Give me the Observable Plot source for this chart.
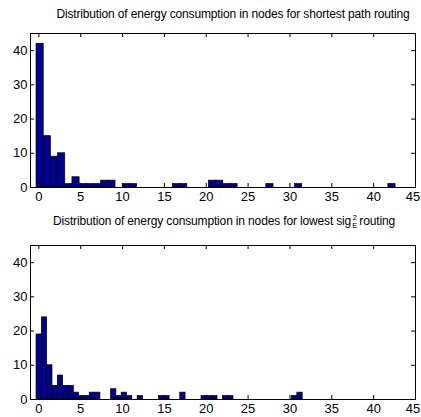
<!DOCTYPE html>
<html><head><meta charset="utf-8">
<script src="https://cdn.jsdelivr.net/npm/d3@7"></script>
<script src="https://cdn.jsdelivr.net/npm/@observablehq/plot@0.6"></script>
<style>
body{margin:0;background:#fff;}
#fig{position:relative;width:421px;height:417px;font-family:"Liberation Sans",Arial,sans-serif;background:#fff;overflow:hidden;}
#fig svg{position:absolute;left:0;}
.title{position:absolute;white-space:nowrap;font-size:12px;line-height:12px;transform:translate(-50%,-50%);color:#000;letter-spacing:-0.15px;}
.stack{display:inline-flex;flex-direction:column;font-size:8px;line-height:8px;vertical-align:middle;text-align:center;margin:0 2px 0 1px;}
</style></head><body><div id="fig"></div>
<script>
const xTicks = [0, 5, 10, 15, 20, 25, 30, 35, 40, 45];
const yTicks = [0, 10, 20, 30, 40];
const title1 = "Distribution of energy consumption in nodes for shortest path routing";
const title2 = "Distribution of energy consumption in nodes for lowest sig";
const title2Sup = "2";
const title2Sub = "E";
const title2End = "routing";
// 50-bin histogram counts
const shortestCounts = [42,15,9,10,1,3,1,1,1,2, 2,0,1,1,0,0,0,0,0,1, 1,0,0,0,2,2,1,1,0,0, 0,0,1,0,0,0,1,0,0,0, 0,0,0,0,0,0,0,0,0,1];
const shortestRange = [-0.28, 42.62];
const lowestCounts = [19,24,10,4,7,4,4,2,1,1, 2,2,0,0,3,1,2,1,0,1, 0,0,0,1,1,0,0,2,0,0, 0,1,1,1,0,1,1,0,0,0, 0,0,0,0,0,0,0,0,1,2];
const lowestRange = [-0.28, 31.52];

function makeHist(counts, range, h, mTop, mBottom) {
  const [lo, hi] = range;
  const w = (hi - lo) / counts.length;
  const bins = counts.map((c, i) => ({x1: lo + i * w, x2: lo + (i + 1) * w, y: c})).filter(d => d.y > 0);
  const mL = 30, mR = 6, W = 421;
  const fh = h - mTop - mBottom, fw = W - mL - mR;
  const lastTick = xTicks[xTicks.length - 1];
  return Plot.plot({
    width: W, height: h, marginTop: mTop, marginBottom: mBottom, marginLeft: mL, marginRight: mR,
    style: {fontFamily: "'Liberation Sans', Arial, sans-serif", fontSize: "13px", background: "white", color: "black", overflow: "visible"},
    x: {domain: [-1, 45]},
    y: {domain: [0, 45]},
    marks: [
      Plot.rectY(bins, {x1: "x1", x2: "x2", y: "y", fill: "#00008f", stroke: "#000", strokeWidth: 0.7, inset: 0}),
      Plot.ruleY([0], {stroke: "#000"}),
      Plot.ruleX(xTicks, {insetTop: fh - 4, stroke: "#000"}),
      Plot.ruleX(xTicks, {insetBottom: fh - 4, stroke: "#000"}),
      Plot.ruleY(yTicks, {insetRight: fw - 4, stroke: "#000"}),
      Plot.ruleY(yTicks, {insetLeft: fw - 4, stroke: "#000"}),
      Plot.frame({stroke: "#000"}),
      Plot.axisX(xTicks.slice(0, -1), {anchor: "bottom", tickSize: 0, tickPadding: 4, label: null, fontSize: 13}),
      Plot.axisX([lastTick], {anchor: "bottom", tickSize: 0, tickPadding: 4, label: null, fontSize: 13, dx: -2.5}),
      Plot.axisY(yTicks, {anchor: "left", tickSize: 0, tickPadding: 3, label: null, fontSize: 13})
    ]
  });
}

const fig = document.getElementById("fig");
const p1 = makeHist(shortestCounts, shortestRange, 210, 33, 23);
p1.style.top = "0px";
fig.appendChild(p1);
const p2 = makeHist(lowestCounts, lowestRange, 207, 35, 18);
p2.style.top = "210px";
fig.appendChild(p2);

const t1 = document.createElement("div");
t1.className = "title";
t1.style.left = "233px"; t1.style.top = "14px";
t1.textContent = title1;
fig.appendChild(t1);

const t2 = document.createElement("div");
t2.className = "title";
t2.style.left = "224px"; t2.style.top = "222px";
t2.append(title2);
const st = document.createElement("span");
st.className = "stack";
const a = document.createElement("span"); a.textContent = title2Sup;
const b = document.createElement("span"); b.textContent = title2Sub;
st.append(a, b);
t2.append(st, title2End);
fig.appendChild(t2);
</script>
</body></html>
